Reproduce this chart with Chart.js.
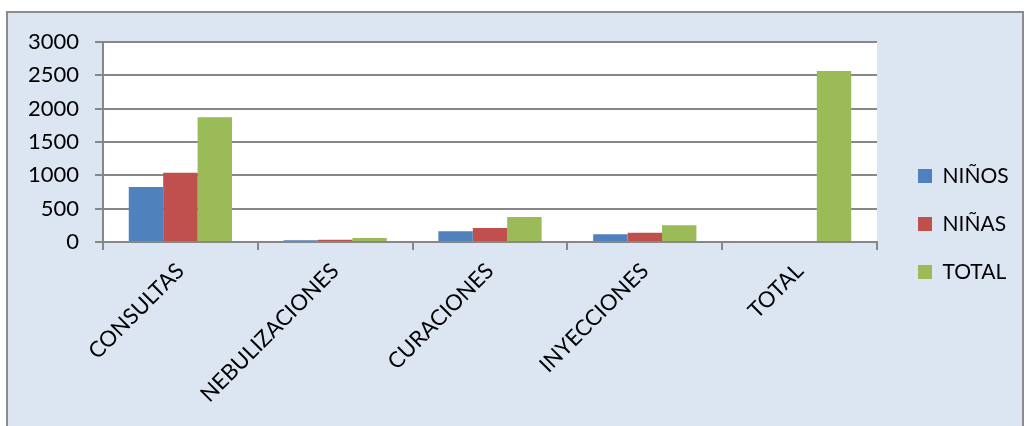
<!DOCTYPE html>
<html>
<head>
<meta charset="utf-8">
<script src="https://cdn.jsdelivr.net/npm/chart.js@4.4.0/dist/chart.umd.min.js"></script>
<style>
  html, body { margin: 0; padding: 0; background: #ffffff; }
  #wrap { position: relative; width: 1026px; height: 426px; }
</style>
</head>
<body>
<div id="wrap"><canvas id="barChart" width="1026" height="426"></canvas></div>
<script>
// data
var categories = ['CONSULTAS', 'NEBULIZACIONES', 'CURACIONES', 'INYECCIONES', 'TOTAL'];
var ninos = [825, 25, 160, 115, null];
var ninas = [1040, 35, 210, 140, null];
var totals = [1870, 60, 375, 250, 2565];
var yTicks = [0, 500, 1000, 1500, 2000, 2500, 3000];

var gridGray = '#878787';

// light blue frame + white plot area
var backgroundPlugin = {
    id: 'backgroundPlugin',
    beforeDraw: function (chart) {
        var ctx = chart.ctx;
        var a = chart.chartArea;
        ctx.save();
        ctx.fillStyle = '#ffffff';
        ctx.fillRect(0, 0, chart.width, chart.height);
        ctx.fillStyle = '#dce6f2';
        ctx.fillRect(7, 12, 1016, 430);
        ctx.strokeStyle = '#8c8c8c';
        ctx.lineWidth = 2;
        ctx.strokeRect(7, 12, 1016, 430);
        ctx.fillStyle = '#ffffff';
        ctx.fillRect(a.left, a.top, a.right - a.left, a.bottom - a.top);
        ctx.restore();
    }
};

// legend sits further right than chart.js puts it
var legendShift = {
    id: 'legendShift',
    beforeInit: function (chart) {
        var legend = chart.legend;
        if (!legend) return;
        var origFit = legend.fit;
        legend.fit = function () {
            origFit.call(this);
            this.width = 149;
        };
    },
    afterLayout: function (chart) {
        chart.legend.left += 14;
        chart.legend.top -= 10;
        chart.legend.bottom -= 10;
    }
};

var ctx = document.getElementById('barChart').getContext('2d');
var barChart = new Chart(ctx, {
    type: 'bar',
    data: {
        labels: categories,
        datasets: [{
            label: 'NIÑOS',
            data: ninos,
            backgroundColor: '#4f81bd'
        }, {
            label: 'NIÑAS',
            data: ninas,
            backgroundColor: '#c0504d'
        }, {
            label: 'TOTAL',
            data: totals,
            backgroundColor: '#9bbb59'
        }]
    },
    options: {
        responsive: false,
        animation: false,
        layout: { padding: { top: 42, left: 0, right: 0, bottom: 0 } },
        datasets: {
            bar: { categoryPercentage: 0.667, barPercentage: 1.0 }
        },
        scales: {
            x: {
                grid: {
                    offset: true,
                    drawOnChartArea: false,
                    drawTicks: true,
                    tickLength: 8,
                    color: gridGray,
                    lineWidth: 2
                },
                border: { display: true, color: gridGray, width: 2 },
                ticks: {
                    color: '#000000',
                    font: { family: 'Lato', size: 22 },
                    maxRotation: 45,
                    minRotation: 45,
                    padding: 8
                },
                afterFit: function (scale) { scale.height = 184; }
            },
            y: {
                min: 0,
                max: 3000,
                afterBuildTicks: function (scale) {
                    scale.ticks = yTicks.map(function (v) { return { value: v }; });
                },
                grid: {
                    color: gridGray,
                    lineWidth: 2,
                    tickLength: 8
                },
                border: { display: true, color: gridGray, width: 2 },
                ticks: {
                    color: '#000000',
                    font: { family: 'Lato', size: 22 },
                    padding: 16,
                    callback: function (v) { return String(v); }
                },
                afterFit: function (scale) { scale.width = 103; }
            }
        },
        plugins: {
            legend: {
                position: 'right',
                labels: {
                    color: '#000000',
                    font: { family: 'Lato', size: 21 },
                    boxWidth: 14,
                    boxHeight: 14,
                    padding: 27
                }
            },
            tooltip: { enabled: false }
        }
    },
    plugins: [backgroundPlugin, legendShift]
});
</script>
</body>
</html>
